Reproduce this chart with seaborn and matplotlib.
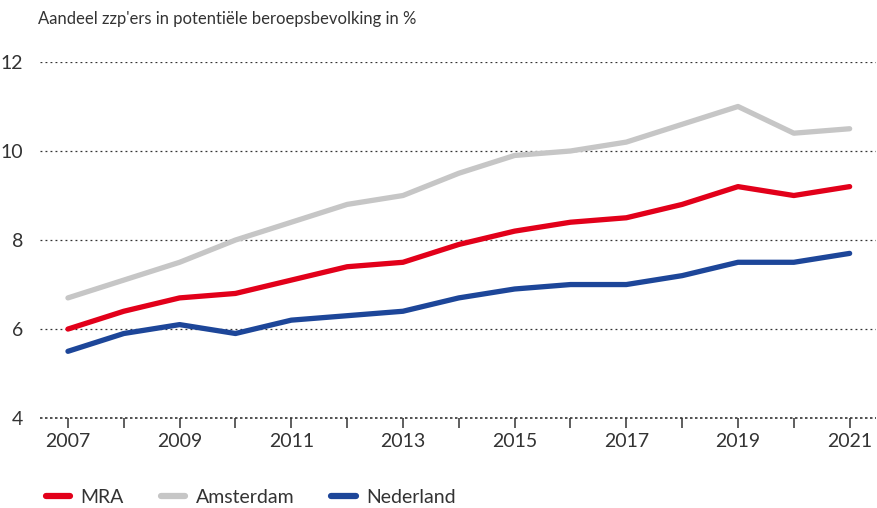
import pandas as pd
import numpy as np
import matplotlib
matplotlib.use("Agg")
import matplotlib.pyplot as plt
import seaborn as sns

#%% Data
jaren = list(range(2007, 2022))
mra = [6.0, 6.4, 6.7, 6.8, 7.1, 7.4, 7.5, 7.9, 8.2, 8.4, 8.5, 8.8, 9.2, 9.0, 9.2]
amsterdam = [6.7, 7.1, 7.5, 8.0, 8.4, 8.8, 9.0, 9.5, 9.9, 10.0, 10.2, 10.6, 11.0, 10.4, 10.5]
nederland = [5.5, 5.9, 6.1, 5.9, 6.2, 6.3, 6.4, 6.7, 6.9, 7.0, 7.0, 7.2, 7.5, 7.5, 7.7]
reeksen = ["MRA", "Amsterdam", "Nederland"]
kleuren = ["#E2001A", "#C6C6C6", "#1D4699"]

df = pd.DataFrame({"Jaar": jaren, "MRA": mra, "Amsterdam": amsterdam, "Nederland": nederland})
df_long = df.melt(id_vars="Jaar", var_name="Regio", value_name="Aandeel")

#%% Plot
sns.set_style("white")
plt.rcParams["font.family"] = ["Lato", "DejaVu Sans"]
tekst = "#333333"

fig = plt.figure(figsize=(8.78, 5.08), dpi=100)
ax = fig.add_axes([0.0456, 0.177, 0.952, 0.701])

sns.lineplot(data=df_long, x="Jaar", y="Aandeel", hue="Regio", hue_order=reeksen,
             palette=kleuren, linewidth=3.8, ax=ax, legend=False,
             solid_capstyle="round", solid_joinstyle="round")

ax.set_xlim(2006.5, 2021.47)
ax.set_ylim(4, 12)
ax.set_yticks([4, 6, 8, 10, 12])
ax.set_xticks(jaren)
ax.set_xticklabels([str(j) if j % 2 == 1 else "" for j in jaren])
for y in [6, 8, 10, 12]:
    ax.axhline(y, color="#333333", linestyle=(0, (1.5, 2.5)), linewidth=0.9, zorder=0)
ax.axhline(4, color="#333333", linestyle=(0, (1.5, 1.5)), linewidth=1.2, zorder=0, clip_on=False)

for s in ax.spines.values():
    s.set_visible(False)
ax.tick_params(axis="x", direction="out", length=7, width=1.1, color="#333333",
               labelsize=14, labelcolor=tekst, pad=4, bottom=True)
ax.tick_params(axis="y", length=0, labelsize=14, labelcolor=tekst, pad=12)
ax.set_xlabel("")
ax.set_ylabel("")

fig.text(0.043, 0.962, "Aandeel zzp'ers in potentiële beroepsbevolking in %",
         fontsize=12, color=tekst, ha="left", va="center")

handles = [plt.Line2D([0], [0], color=c, linewidth=4.5, solid_capstyle="round") for c in kleuren]
fig.legend(handles, reeksen, loc="lower left", bbox_to_anchor=(0.032, -0.03), ncol=3,
           frameon=False, fontsize=14, handlelength=1.25, columnspacing=1.9,
           handletextpad=0.55, labelcolor=tekst)

fig.savefig("out.png", dpi=100)
